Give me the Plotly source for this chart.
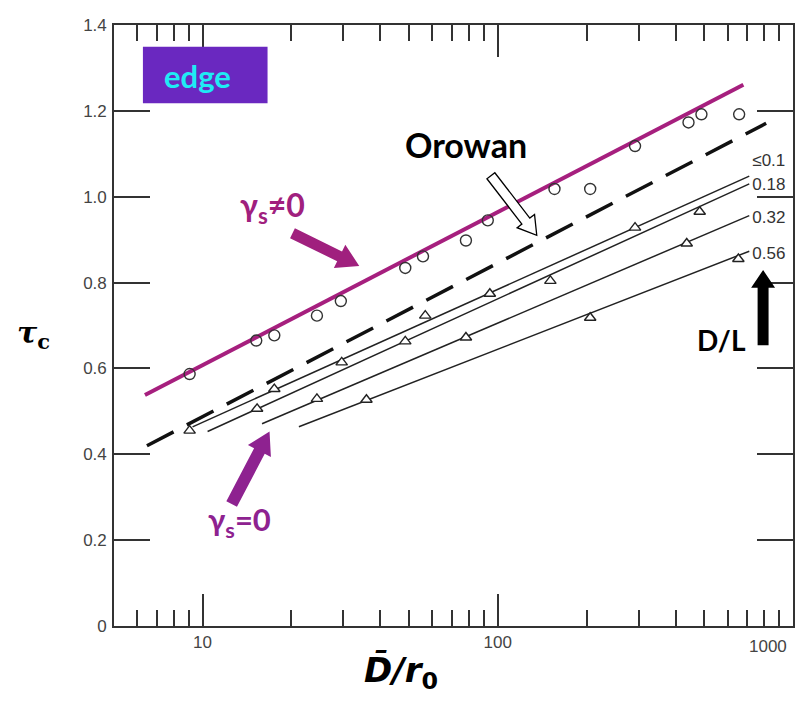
import plotly.graph_objects as go

# ---------------- data ----------------
circle_x = [9.04, 15.2, 17.5, 24.4, 29.4, 48.6, 55.8, 78.0, 92.5, 155.6, 205.6, 291.7, 442.6, 489.6, 657.0]
circle_y = [0.587, 0.665, 0.677, 0.723, 0.757, 0.834, 0.861, 0.898, 0.945, 1.018, 1.018, 1.118, 1.173, 1.192, 1.192]

gamma_line_x = [6.38, 679]
gamma_line_y = [0.538, 1.261]

orowan_x = [6.48, 811]
orowan_y = [0.420, 1.171]

dl_labels = ["≤0.1", "0.18", "0.32", "0.56"]
fit_x = [[9.25, 711], [10.4, 711], [15.9, 711], [21.2, 711]]
fit_y = [[0.464, 1.048], [0.453, 1.030], [0.471, 0.956], [0.464, 0.873]]
tri_x = [[9.04, 17.5, 29.6, 56.8, 94.0, 291.7], [15.3, 48.6, 150.7, 483], [24.4, 78.0, 436.5], [35.9, 205.6, 653]]
tri_y = [[0.455, 0.552, 0.614, 0.723, 0.774, 0.928], [0.506, 0.663, 0.804, 0.965], [0.529, 0.672, 0.891], [0.527, 0.718, 0.855]]
label_x = [728, 728, 728, 728]
label_y = [1.081, 1.025, 0.949, 0.864]

x_tickvals = [10, 100, 1000]
x_ticktext = ["10", "100", " "]
x_minor = [6, 7, 8, 9, 20, 30, 40, 50, 60, 70, 80, 90, 200, 300, 400, 500, 600, 700, 800, 900]
y_tickvals = [0, 0.2, 0.4, 0.6, 0.8, 1.0, 1.2, 1.4]
y_ticktext = ["0", "0.2", "0.4", "0.6", "0.8", "1.0", "1.2", "1.4"]

# ---------------- layout helpers ----------------
OFF = 8  # page body margin
W, H = 803 - OFF, 713 - OFF
PL, PR, PT, PB = 114, 795, 20, 626  # plot area in screen px
ML, MT = PL - OFF, PT - OFF
PW, PH = PR - PL, PB - PT
MR, MB = W - ML - PW, H - MT - PH


def pp(x, y):
    return (x - PL) / PW, (PB - y) / PH


def arrow_path(tail, tip, w, hw, hl):
    dx, dy = tip[0] - tail[0], tip[1] - tail[1]
    L = (dx * dx + dy * dy) ** 0.5
    ux, uy = dx / L, dy / L
    nx, ny = -uy, ux
    bx, by = tip[0] - ux * hl, tip[1] - uy * hl
    pts = [
        (tail[0] + nx * w, tail[1] + ny * w),
        (bx + nx * w, by + ny * w),
        (bx + nx * hw, by + ny * hw),
        tip,
        (bx - nx * hw, by - ny * hw),
        (bx - nx * w, by - ny * w),
        (tail[0] - nx * w, tail[1] - ny * w),
    ]
    s = ""
    for i, (px, py) in enumerate(pts):
        a, b = pp(px, py)
        s += ("M" if i == 0 else "L") + f"{a:.5f},{b:.5f} "
    return s + "Z"


fig = go.Figure()

fig.add_trace(go.Scatter(x=gamma_line_x, y=gamma_line_y, mode="lines",
                         line=dict(color="#A61F7E", width=4), showlegend=False))
fig.add_trace(go.Scatter(x=orowan_x, y=orowan_y, mode="lines",
                         line=dict(color="#111111", width=3.5, dash="30px,15px"), showlegend=False))
for fx, fy in zip(fit_x, fit_y):
    fig.add_trace(go.Scatter(x=fx, y=fy, mode="lines",
                             line=dict(color="#222222", width=1.5), showlegend=False))
for tx, ty in zip(tri_x, tri_y):
    fig.add_trace(go.Scatter(x=tx, y=ty, mode="markers",
                             marker=dict(symbol="triangle-up", size=10, color="white",
                                         line=dict(color="#222222", width=1.4)),
                             showlegend=False))
fig.add_trace(go.Scatter(x=circle_x, y=circle_y, mode="markers",
                         marker=dict(symbol="circle-open", size=11, color="#333333",
                                     line=dict(width=1.4)),
                         showlegend=False))
fig.add_trace(go.Scatter(x=label_x, y=label_y, mode="text", text=dl_labels,
                         textposition="middle right",
                         textfont=dict(family="Liberation Sans Narrow, Liberation Sans", size=17, color="#333333"),
                         showlegend=False))

shapes = []
x0, y0 = pp(143, 99)
x1, y1 = pp(268, 42)
shapes.append(dict(type="rect", xref="paper", yref="paper", x0=x0, y0=y0, x1=x1, y1=y1,
                   fillcolor="#6A28C0", line=dict(width=0), layer="above"))
shapes.append(dict(type="path", xref="paper", yref="paper",
                   path=arrow_path((492, 172), (538, 232), 5, 11, 18),
                   fillcolor="white", line=dict(color="black", width=1.3)))
shapes.append(dict(type="path", xref="paper", yref="paper",
                   path=arrow_path((293, 230), (360, 263), 5.5, 13, 22),
                   fillcolor="#A0207E", line=dict(width=0)))
shapes.append(dict(type="path", xref="paper", yref="paper",
                   path=arrow_path((232, 503), (270, 430), 6, 13, 22),
                   fillcolor="#8E2290", line=dict(width=0)))
shapes.append(dict(type="path", xref="paper", yref="paper",
                   path=arrow_path((765, 343), (765, 267), 5.5, 12, 18),
                   fillcolor="black", line=dict(width=0)))

annotations = []


def add_text(text, x, y, size, color, family="Lato", xanchor="center"):
    a, b = pp(x, y)
    annotations.append(dict(text=text, x=a, y=b, xref="paper", yref="paper",
                            showarrow=False, xanchor=xanchor, yanchor="middle",
                            font=dict(family=family, size=size, color=color)))


add_text("<b>edge</b>", 198, 71, 31, "#1EEBF5")
add_text("<b>Orowan</b>", 467, 140, 34, "black")
add_text("<b>γ<sub>s</sub>≠0</b>", 273, 204, 32, "#A0207E")
add_text("<b>γ<sub>s</sub>=0</b>", 240, 521, 31, "#8E2290")
add_text("<b>D/L</b>", 723, 338, 28, "black")
add_text("<b><i>τ</i></b><sub><b>c</b></sub>", 33, 332, 30, "black", family="DejaVu Serif")
add_text("<b><i>D̄/r</i></b><sub><b>0</b></sub>", 402, 672, 34, "black", family="DejaVu Sans")
add_text("1000", 770, 647, 17, "#444444", family="Liberation Sans")

axis_common = dict(showline=True, linecolor="#333333", linewidth=1.6, mirror="allticks",
                   ticks="inside", tickcolor="#333333", tickwidth=1.5, showgrid=False,
                   zeroline=False,
                   tickfont=dict(family="Liberation Sans", size=17, color="#444444"))

fig.update_layout(
    width=W, height=H,
    margin=dict(l=ML, r=MR, t=MT, b=MB),
    paper_bgcolor="white", plot_bgcolor="white",
    xaxis=dict(type="log", range=[0.700, 3.0], tickvals=x_tickvals, ticktext=x_ticktext,
               ticklen=32,
               minor=dict(tickvals=x_minor, ticks="inside", ticklen=16,
                          tickcolor="#333333", tickwidth=1.5),
               **axis_common),
    yaxis=dict(range=[0, 1.4], tickvals=y_tickvals, ticktext=y_ticktext, ticklen=36,
               ticklabelstandoff=2, **axis_common),
    shapes=shapes,
    annotations=annotations,
)

fig.write_html("out.html")
